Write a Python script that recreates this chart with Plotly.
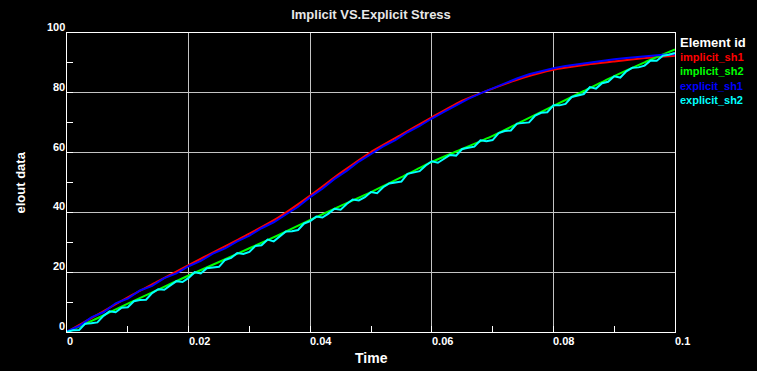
import plotly.graph_objects as go

# ---------------- data ----------------
title_text = "Implicit VS.Explicit Stress"
x_title = "Time"
y_title = "elout data"
legend_title = "Element id"

series_names = ["implicit_sh1", "implicit_sh2", "explicit_sh1", "explicit_sh2"]
series_colors = ["#ff0000", "#00ff00", "#0000ff", "#00ffff"]

t_implicit = [0.000, 0.005, 0.010, 0.015, 0.020, 0.025, 0.030, 0.035, 0.040, 0.045, 0.050,
              0.055, 0.060, 0.065, 0.070, 0.075, 0.080, 0.085, 0.090, 0.095, 0.100]

implicit_sh1 = [0.0, 5.8, 11.6, 17.0, 22.4, 27.6, 32.9, 38.6, 45.6, 53.2, 60.2,
                66.0, 71.8, 77.4, 81.4, 85.0, 87.7, 89.3, 90.5, 91.6, 92.4]

implicit_sh2 = [0.0, 4.6, 9.5, 14.2, 18.9, 23.4, 28.0, 32.6, 37.5, 42.2, 46.8,
                51.8, 56.9, 61.2, 65.6, 70.6, 75.6, 80.6, 85.6, 90.2, 94.5]

t_explicit_sh1 = [0.000, 0.002, 0.004, 0.006, 0.008, 0.010, 0.012, 0.014, 0.016, 0.018,
                  0.020, 0.022, 0.024, 0.026, 0.028, 0.030, 0.032, 0.034, 0.036, 0.038,
                  0.040, 0.042, 0.044, 0.046, 0.048, 0.050, 0.052, 0.054, 0.056, 0.058,
                  0.060, 0.062, 0.064, 0.066, 0.068, 0.070, 0.072, 0.074, 0.076, 0.078,
                  0.080, 0.082, 0.084, 0.086, 0.088, 0.090, 0.092, 0.094, 0.096, 0.098,
                  0.100]

explicit_sh1 = [0.2, 2.0, 4.9, 6.6, 9.6, 11.2, 13.9, 15.4, 18.0, 19.6,
                22.0, 23.8, 26.2, 28.0, 30.3, 32.2, 34.7, 36.7, 39.3, 41.9,
                45.1, 47.9, 51.2, 53.9, 57.0, 59.6, 62.1, 64.2, 66.8, 68.9,
                71.4, 73.6, 75.9, 78.0, 79.8, 81.5, 83.2, 84.8, 86.2, 87.3,
                88.2, 89.0, 89.6, 90.2, 90.7, 91.2, 91.6, 92.0, 92.4, 92.7,
                92.9]

t_explicit_sh2 = [0.000, 0.001, 0.002, 0.003, 0.004, 0.005, 0.006, 0.007, 0.008, 0.009,
                  0.010, 0.011, 0.012, 0.013, 0.014, 0.015, 0.016, 0.017, 0.018, 0.019,
                  0.020, 0.021, 0.022, 0.023, 0.024, 0.025, 0.026, 0.027, 0.028, 0.029,
                  0.030, 0.031, 0.032, 0.033, 0.034, 0.035, 0.036, 0.037, 0.038, 0.039,
                  0.040, 0.041, 0.042, 0.043, 0.044, 0.045, 0.046, 0.047, 0.048, 0.049,
                  0.050, 0.051, 0.052, 0.053, 0.054, 0.055, 0.056, 0.057, 0.058, 0.059,
                  0.060, 0.061, 0.062, 0.063, 0.064, 0.065, 0.066, 0.067, 0.068, 0.069,
                  0.070, 0.071, 0.072, 0.073, 0.074, 0.075, 0.076, 0.077, 0.078, 0.079,
                  0.080, 0.081, 0.082, 0.083, 0.084, 0.085, 0.086, 0.087, 0.088, 0.089,
                  0.090, 0.091, 0.092, 0.093, 0.094, 0.095, 0.096, 0.097, 0.098, 0.099,
                  0.100]

explicit_sh2 = [0.1, 0.6, 0.7, 2.8, 2.9, 3.2, 5.4, 6.9, 6.6, 8.1,
                8.3, 10.3, 10.7, 10.8, 13.0, 14.3, 14.1, 15.6, 17.0, 16.7,
                18.1, 20.0, 19.6, 21.3, 21.6, 21.8, 24.1, 24.8, 26.4, 26.1,
                26.8, 28.8, 29.0, 30.9, 30.3, 32.1, 33.6, 33.7, 34.1, 36.3,
                37.1, 38.6, 38.3, 39.6, 41.2, 40.9, 42.8, 44.3, 44.0, 45.1,
                46.8, 46.4, 48.4, 49.7, 49.9, 50.3, 52.9, 53.3, 53.8, 55.7,
                57.1, 56.6, 57.8, 59.2, 59.0, 61.2, 61.6, 62.0, 64.1, 63.8,
                64.2, 66.5, 67.2, 67.4, 69.7, 69.9, 70.1, 72.4, 73.3, 73.5,
                75.8, 75.8, 76.3, 78.6, 79.1, 79.6, 81.9, 81.4, 83.2, 83.7,
                85.5, 85.1, 87.2, 88.4, 88.5, 89.1, 90.8, 90.7, 92.4, 92.7,
                93.3]

x_tick_vals = [0, 0.02, 0.04, 0.06, 0.08, 0.1]
x_tick_text = ["0", "0.02", "0.04", "0.06", "0.08", "0.1"]
x_minor_vals = [0.01, 0.03, 0.05, 0.07, 0.09]
y_tick_vals = [0, 20, 40, 60, 80, 100]
y_tick_text = ["0", "20", "40", "60", "80", "100"]
y_minor_vals = [10, 30, 50, 70, 90]

# ---------------- figure ----------------
FONT = "Liberation Sans, Arial, sans-serif"

xs = [t_implicit, t_implicit, t_explicit_sh1, t_explicit_sh2]
ys = [implicit_sh1, implicit_sh2, explicit_sh1, explicit_sh2]
shapes = ["spline", "spline", "linear", "linear"]

fig = go.Figure()
for name, color, xv, yv, shp in zip(series_names, series_colors, xs, ys, shapes):
    fig.add_trace(go.Scatter(x=xv, y=yv, mode="lines", name=name,
                             line=dict(color=color, width=2, shape=shp, smoothing=0.6),
                             showlegend=False))

axis_common = dict(showgrid=True, gridcolor="#c4c4c4", gridwidth=1,
                   ticks="inside", ticklen=6, tickcolor="white", tickwidth=1,
                   showticklabels=False, showline=True, linecolor="white",
                   linewidth=1, mirror=True, zeroline=False)

fig.update_xaxes(range=[0, 0.1], tickvals=x_tick_vals,
                 minor=dict(tickvals=x_minor_vals, ticks="inside", ticklen=6,
                            tickcolor="white", showgrid=False),
                 **axis_common)
fig.update_yaxes(range=[0, 100], tickvals=y_tick_vals,
                 minor=dict(tickvals=y_minor_vals, ticks="inside", ticklen=6,
                            tickcolor="white", showgrid=False),
                 **axis_common)

annotations = []
for v, txt in zip(x_tick_vals, x_tick_text):
    annotations.append(dict(x=v, y=0, xref="x", yref="paper", text=txt,
                            showarrow=False, xanchor="left", yanchor="top",
                            xshift=-2, yshift=-1,
                            font=dict(family=FONT, size=11, color="white", weight="bold")))
for v, txt in zip(y_tick_vals, y_tick_text):
    annotations.append(dict(x=0, y=v, xref="paper", yref="y", text=txt,
                            showarrow=False, xanchor="right", yanchor="bottom",
                            xshift=0, yshift=-2,
                            font=dict(family=FONT, size=11, color="white", weight="bold")))

annotations.append(dict(x=0.5, y=0, xref="paper", yref="paper", text=x_title,
                        showarrow=False, xanchor="center", yanchor="top", yshift=-16,
                        font=dict(family=FONT, size=14, color="white", weight="bold")))
annotations.append(dict(x=0, y=0.5, xref="paper", yref="paper", text=y_title,
                        showarrow=False, xanchor="center", yanchor="middle",
                        xshift=-47, textangle=-90,
                        font=dict(family=FONT, size=13, color="white", weight="bold")))

annotations.append(dict(x=1, y=100, xref="paper", yref="y", text=legend_title,
                        showarrow=False, xanchor="left", yanchor="middle",
                        xshift=3, yshift=-9,
                        font=dict(family=FONT, size=13, color="white", weight="bold")))
for i, (name, color) in enumerate(zip(series_names, series_colors)):
    annotations.append(dict(x=1, y=100, xref="paper", yref="y", text=name,
                            showarrow=False, xanchor="left", yanchor="middle",
                            xshift=3, yshift=-24 - 14.3 * i,
                            font=dict(family=FONT, size=11, color=color, weight="bold")))

fig.update_layout(
    width=757, height=371,
    paper_bgcolor="black", plot_bgcolor="black",
    margin=dict(l=67, r=82, t=33, b=39),
    title=dict(text=title_text, x=0.5, xref="paper", xanchor="center",
               y=0.962, yanchor="middle",
               font=dict(family=FONT, size=13, color="#e8e8e8", weight="bold")),
    annotations=annotations,
)

fig.write_html("out.html", config={"displayModeBar": False},
               post_script="document.body.style.margin='0';document.body.style.background='black';")
